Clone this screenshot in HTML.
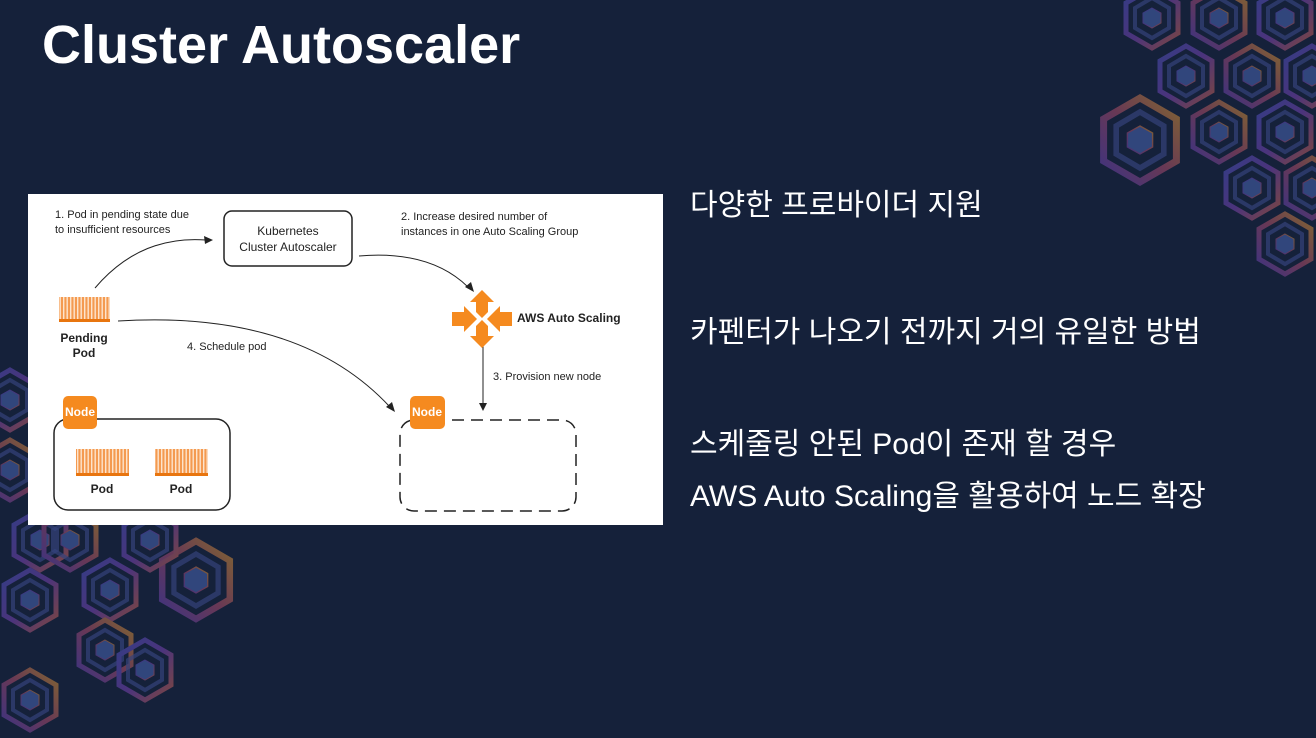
<!DOCTYPE html>
<html><head><meta charset="utf-8"><style>
html,body{margin:0;padding:0}
body{width:1316px;height:738px;background:#15213a;position:relative;overflow:hidden;font-family:"Liberation Sans","Noto Sans CJK KR",sans-serif}
.title{position:absolute;left:42px;top:12px;color:#fff;font-weight:bold;font-size:54px;line-height:66px;margin:0}
.r{position:absolute;left:690px;color:#fff;font-size:30px;line-height:36px;font-family:"Liberation Sans","Noto Sans CJK KR",sans-serif;white-space:nowrap}
</style></head><body>
<svg width="1316" height="738" style="position:absolute;left:0;top:0">
<defs>
<linearGradient id="g1" x1="0" y1="0" x2="1" y2="1"><stop offset="0" stop-color="#4a50b8"/><stop offset=".5" stop-color="#7040a8"/><stop offset="1" stop-color="#c06048"/></linearGradient>
<linearGradient id="g2" x1="1" y1="0" x2="0" y2="1"><stop offset="0" stop-color="#c89030"/><stop offset=".5" stop-color="#a04868"/><stop offset="1" stop-color="#5a40b0"/></linearGradient>
<g id="hx"><polygon points="0,-30 26,-15 26,15 0,30 -26,15 -26,-15" fill="none" stroke-width="5"/><polygon points="0,-20 17,-10 17,10 0,20 -17,10 -17,-10" fill="none" stroke-width="4" stroke="#4a5aa8" opacity=".7"/><polygon points="0,-10 9,-5 9,5 0,10 -9,5 -9,-5" fill="#4560a8"/></g>
</defs>
<g opacity=".6">
<use href="#hx" x="1152" y="18" stroke="url(#g1)"/>
<use href="#hx" x="1219" y="18" stroke="url(#g2)"/>
<use href="#hx" x="1285" y="18" stroke="url(#g1)"/>
<use href="#hx" x="1186" y="76" stroke="url(#g1)"/>
<use href="#hx" x="1252" y="76" stroke="url(#g2)"/>
<use href="#hx" x="1312" y="76" stroke="url(#g1)"/>
<use href="#hx" x="1140" y="140" stroke="url(#g2)" transform="translate(1140 140) scale(1.4) translate(-1140 -140)"/>
<use href="#hx" x="1219" y="132" stroke="url(#g2)"/>
<use href="#hx" x="1285" y="132" stroke="url(#g1)"/>
<use href="#hx" x="1252" y="188" stroke="url(#g1)"/>
<use href="#hx" x="1312" y="188" stroke="url(#g2)"/>
<use href="#hx" x="1285" y="244" stroke="url(#g2)"/>
<use href="#hx" x="10" y="400" stroke="url(#g1)"/>
<use href="#hx" x="10" y="470" stroke="url(#g2)"/>
<use href="#hx" x="40" y="540" stroke="url(#g1)"/>
<use href="#hx" x="110" y="590" stroke="url(#g1)"/>
<use href="#hx" x="70" y="540" stroke="url(#g2)"/>
<use href="#hx" x="30" y="600" stroke="url(#g1)"/>
<use href="#hx" x="105" y="650" stroke="url(#g2)"/>
<use href="#hx" x="145" y="670" stroke="url(#g1)"/>
<use href="#hx" x="30" y="700" stroke="url(#g2)"/>
<use href="#hx" x="196" y="580" stroke="url(#g2)" transform="translate(196 580) scale(1.3) translate(-196 -580)"/>
<use href="#hx" x="150" y="540" stroke="url(#g1)"/>
</g>
<rect x="28" y="194" width="635" height="331" fill="#fff"/>
<g font-family="Liberation Sans,sans-serif" fill="#222">
<text x="55" y="218" font-size="11">1. Pod in pending state due</text>
<text x="55" y="233" font-size="11">to insufficient resources</text>
<rect x="224" y="211" width="128" height="55" rx="8" fill="none" stroke="#222" stroke-width="1.5"/>
<text x="288" y="235" font-size="12" text-anchor="middle">Kubernetes</text>
<text x="288" y="251" font-size="12" text-anchor="middle">Cluster Autoscaler</text>
<text x="401" y="220" font-size="11">2. Increase desired number of</text>
<text x="401" y="235" font-size="11">instances in one Auto Scaling Group</text>
<text x="517" y="322" font-size="12" font-weight="bold">AWS Auto Scaling</text>
<text x="187" y="350" font-size="11">4. Schedule pod</text>
<text x="493" y="380" font-size="11">3. Provision new node</text>
<text x="84" y="342" font-size="12" font-weight="bold" text-anchor="middle">Pending</text>
<text x="84" y="357" font-size="12" font-weight="bold" text-anchor="middle">Pod</text>
<text x="102" y="493" font-size="12" font-weight="bold" text-anchor="middle">Pod</text>
<text x="181" y="493" font-size="12" font-weight="bold" text-anchor="middle">Pod</text>
</g>
<g fill="none" stroke="#222" stroke-width="1">
<path d="M95 288 Q140 235 206 240"/>
<path d="M359 256 Q430 250 468 287"/>
<path d="M118 321 Q300 310 390 407"/>
<path d="M483 346 L483 404"/>
</g>
<g fill="#222">
<polygon points="213,240 204,236 205,244"/>
<polygon points="474,292 465,287 471,282"/>
<polygon points="395,412 386,407 392,402"/>
<polygon points="483,411 479,403 487,403"/>
</g>
<rect x="54" y="419" width="176" height="91" rx="14" fill="none" stroke="#222" stroke-width="1.5"/>
<rect x="400" y="420" width="176" height="91" rx="14" fill="none" stroke="#222" stroke-width="1.5" stroke-dasharray="12 7"/>
<g fill="#f58a1f">
<rect x="63" y="396" width="34" height="33" rx="5"/>
<rect x="410" y="396" width="35" height="33" rx="5"/>
</g>
<g font-family="Liberation Sans,sans-serif" font-size="12" font-weight="bold" fill="#fff" text-anchor="middle">
<text x="80" y="416">Node</text><text x="427" y="416">Node</text>
</g>
<defs><pattern id="st" width="3.5" height="10" patternUnits="userSpaceOnUse"><rect width="3.5" height="10" fill="#f49a50"/><rect width="1.4" height="10" fill="#fde4cc"/></pattern></defs>
<g>
<rect x="59" y="297" width="51" height="23" fill="url(#st)"/><rect x="59" y="319" width="51" height="3" fill="#e8750f"/>
<rect x="76" y="449" width="53" height="25" fill="url(#st)"/><rect x="76" y="473" width="53" height="3" fill="#e8750f"/>
<rect x="155" y="449" width="53" height="25" fill="url(#st)"/><rect x="155" y="473" width="53" height="3" fill="#e8750f"/>
</g>
<g fill="#f58a1f">
<polygon points="482,290 494,302 488,302 488,312 482,318 476,312 476,302 470,302"/>
<polygon points="482,348 494,336 488,336 488,326 482,320 476,326 476,336 470,336"/>
<polygon points="452,312 464,312 464,306 477,319 464,332 464,326 452,326"/>
<polygon points="512,312 500,312 500,306 487,319 500,332 500,326 512,326"/>
</g>
</svg>
<h1 class="title">Cluster Autoscaler</h1>
<div class="r" style="top:188px">다양한 프로바이더 지원</div>
<div class="r" style="top:315px">카펜터가 나오기 전까지 거의 유일한 방법</div>
<div class="r" style="top:427px">스케줄링 안된 Pod이 존재 할 경우</div>
<div class="r" style="top:479px">AWS Auto Scaling을 활용하여 노드 확장</div>
</body></html>
